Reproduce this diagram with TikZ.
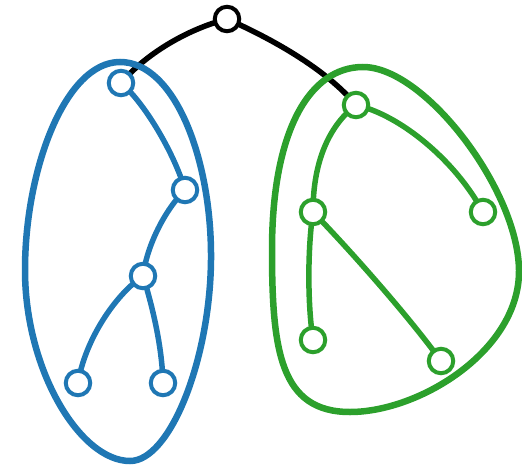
\documentclass[tikz,border=0pt]{standalone}
\definecolor{tabblue}{HTML}{1F77B4}
\definecolor{tabgreen}{HTML}{2CA02C}
\pgfdeclarelayer{edges}
\pgfdeclarelayer{hulls}
\pgfsetlayers{edges,hulls,main}
\begin{document}
\begin{tikzpicture}[x=1pt,y=-1pt,
  vert/.style={circle,draw=#1,fill=white,line width=4pt,minimum size=24.5pt,inner sep=0pt},
  link/.style={draw=#1,line width=5.5pt},
  hull/.style={draw=#1,line width=6.5pt}]
\useasboundingbox (0,0) rectangle (522,466);
\node[vert=black] (r) at (227,19) {};
\node[vert=tabblue] (b1) at (121,83) {};
\node[vert=tabblue] (b2) at (185,190) {};
\node[vert=tabblue] (b3) at (143,276) {};
\node[vert=tabblue] (b4) at (78,383) {};
\node[vert=tabblue] (b5) at (163,383) {};
\node[vert=tabgreen] (g1) at (356,105) {};
\node[vert=tabgreen] (g2) at (313,212) {};
\node[vert=tabgreen] (g3) at (483,212) {};
\node[vert=tabgreen] (g4) at (313,340) {};
\node[vert=tabgreen] (g5) at (441,361) {};
\begin{pgfonlayer}{edges}
\path[link=black] (r.center) .. controls (185,30) and (145,55) .. (b1.center);
\path[link=black] (r.center) .. controls (270,38) and (325,68) .. (g1.center);
\path[link=tabblue] (b1.center) .. controls (145,103) and (175,155) .. (b2.center);
\path[link=tabblue] (b2.center) .. controls (165,210) and (147,245) .. (b3.center);
\path[link=tabblue] (b3.center) .. controls (115,295) and (85,340) .. (b4.center);
\path[link=tabblue] (b3.center) .. controls (152,305) and (162,345) .. (b5.center);
\path[link=tabgreen] (g1.center) .. controls (330,125) and (313,160) .. (g2.center);
\path[link=tabgreen] (g1.center) .. controls (400,115) and (455,160) .. (g3.center);
\path[link=tabgreen] (g2.center) .. controls (308,245) and (307,300) .. (g4.center);
\path[link=tabgreen] (g2.center) .. controls (350,250) and (410,318) .. (g5.center);
\end{pgfonlayer}
\begin{pgfonlayer}{hulls}
\draw[hull=tabblue] (120,62) .. controls (175,62) and (212,160) .. (211,260)
  .. controls (210,360) and (170,461) .. (130,461)
  .. controls (80,461) and (25,370) .. (25,270)
  .. controls (25,170) and (65,62) .. (120,62) -- cycle;
\draw[hull=tabgreen] (363,67) .. controls (425,67) and (518,190) .. (519,270)
  .. controls (520,350) and (420,412) .. (350,412)
  .. controls (280,412) and (272,350) .. (272,250)
  .. controls (272,130) and (310,67) .. (363,67) -- cycle;
\end{pgfonlayer}
\end{tikzpicture}
\end{document}
